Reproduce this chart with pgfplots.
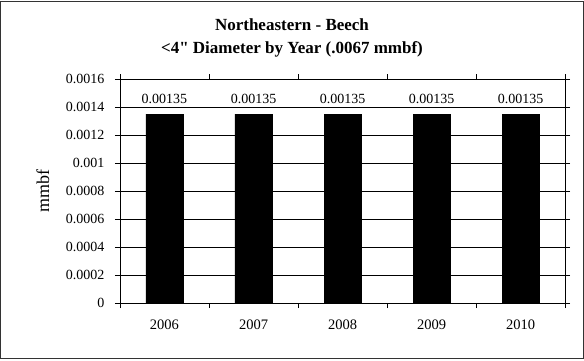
\documentclass[border=0pt]{standalone}
\usepackage{pgfplots}
\pgfplotsset{compat=1.18}
\usepackage{fontspec}
\setmainfont{Liberation Serif}

\begin{document}
\begin{tikzpicture}
\useasboundingbox (-120pt,-57pt) rectangle (464pt,303pt);
\draw[line width=1pt, black!80] (-119pt,-55pt) rectangle (463pt,302pt);
\node[font=\fontsize{17}{19}\selectfont\bfseries] at (172pt,278pt) {Northeastern - Beech};
\node[font=\fontsize{17}{19}\selectfont\bfseries] at (172pt,254pt) {<4\textquotedbl{} Diameter by Year (.0067 mmbf)};
\node[rotate=90, font=\fontsize{18}{20}\selectfont] at (-77pt,112pt) {mmbf};
\begin{axis}[
	at={(0,0)}, anchor=south west,
	scale only axis,
	width=445pt, height=224pt,
	xmin=-0.5, xmax=4.5,
	ymin=0, ymax=0.0016,
	ybar, bar width=37pt,
	xtick={0,1,2,3,4},
	xticklabels={2006,2007,2008,2009,2010},
	major x tick style={draw=none},
	minor xtick={-0.5,0.5,1.5,2.5,3.5,4.5},
	ytick={0,0.0002,...,0.0016},
	tick align=outside,
	major tick length=5pt, minor tick length=5pt,
	tick style={black, line width=0.8pt},
	ymajorgrids=true,
	grid style={black, line width=0.6pt},
	axis line style={black, line width=0.8pt},
	scaled y ticks=false,
	/pgf/number format/assume math mode=true,
	yticklabel style={/pgf/number format/fixed, /pgf/number format/precision=4, font=\fontsize{14}{16}\selectfont, xshift=-7pt},
	xticklabel style={font=\fontsize{14.5}{16}\selectfont, yshift=-8pt},
	nodes near coords,
	every node near coord/.append style={anchor=center, yshift=15pt, font=\fontsize{14}{16}\selectfont, /pgf/number format/fixed, /pgf/number format/precision=5},
]
\addplot[fill=black, draw=black] coordinates {(0,0.00135) (1,0.00135) (2,0.00135) (3,0.00135) (4,0.00135)};
\end{axis}
\end{tikzpicture}
\end{document}
